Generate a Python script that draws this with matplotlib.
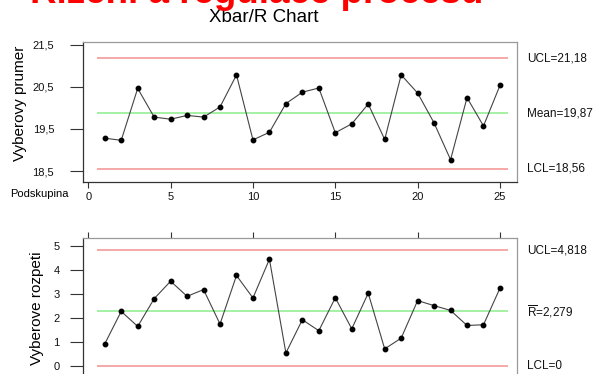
import matplotlib.pyplot as plt
from matplotlib.ticker import FixedLocator, FuncFormatter
import numpy as np

''' Format plots'''
plt.style.use('default')
plt.rcParams['font.family'] = ['Liberation Sans', 'DejaVu Sans']
plt.rcParams['font.size'] = 8
plt.rcParams['mathtext.fontset'] = 'custom'
plt.rcParams['mathtext.rm'] = 'Liberation Sans'
plt.rcParams['xtick.direction'] = 'out'
plt.rcParams['ytick.direction'] = 'out'

# data
subgroups = np.arange(1, 26)
xbar = [19.28, 19.23, 20.46, 19.78, 19.73, 19.82, 19.78, 20.02, 20.78, 19.24,
        19.42, 20.10, 20.37, 20.47, 19.41, 19.62, 20.09, 19.25, 20.78, 20.35,
        19.64, 18.77, 20.24, 19.57, 20.53]
ranges = [0.91, 2.27, 1.64, 2.80, 3.53, 2.90, 3.18, 1.74, 3.77, 2.83,
          4.45, 0.53, 1.92, 1.46, 2.84, 1.54, 3.03, 0.70, 1.15, 2.72,
          2.51, 2.31, 1.68, 1.71, 3.24]
xbar_limits = {'UCL': 21.18, 'Mean': 19.87, 'LCL': 18.56}
r_limits = {'UCL': 4.818, 'Rbar': 2.279, 'LCL': 0}
xbar_labels = ['UCL=21,18', 'Mean=19,87', 'LCL=18,56']
r_labels = ['UCL=4,818', r'$\overline{\mathrm{R}}$=2,279', 'LCL=0']
xbar_yticks = [18.5, 19.5, 20.5, 21.5]
r_yticks = [0, 1, 2, 3, 4, 5]
x_ticks = [0, 5, 10, 15, 20, 25]

red = '#f7a1a1'
green = '#9df09d'
line_col = '#444444'

fig = plt.figure(figsize=(5.94, 3.74), dpi=100)

ax1 = fig.add_axes([0.1392, 0.5126, 0.7316, 0.3751])
ax2 = fig.add_axes([0.1392, -0.016, 0.7316, 0.3791])

comma = FuncFormatter(lambda v, p: ('%g' % v).replace('.', ','))


def draw(ax, vals, limits, labels):
    x0, x1 = subgroups[0] - 0.5, subgroups[-1] + 0.5
    keys = list(limits)
    ax.hlines([limits[keys[0]], limits[keys[2]]], x0, x1, color=red, lw=1.3)
    ax.hlines(limits[keys[1]], x0, x1, color=green, lw=1.3)
    ax.plot(subgroups, vals, color=line_col, lw=0.8, marker='o', ms=3.2,
            mfc='black', mec='black')
    for k, lab in zip(keys, labels):
        ax.annotate(lab, xy=(1, limits[k]), xycoords=('axes fraction', 'data'),
                    xytext=(7, 0), textcoords='offset points',
                    ha='left', va='center', fontsize=8.5, color='#111111')
    ax.set_xlim(-0.34, 26.05)
    for s in ['left', 'bottom']:
        ax.spines[s].set_color('#333333')
    for s in ['top', 'right']:
        ax.spines[s].set_color('#999999')
    for s in ax.spines.values():
        s.set_linewidth(0.9)
    ax.xaxis.set_major_locator(FixedLocator(x_ticks))


# Xbar chart
draw(ax1, xbar, xbar_limits, xbar_labels)
ax1.set_ylim(18.235, 21.56)
ax1.yaxis.set_major_locator(FixedLocator(xbar_yticks))
ax1.yaxis.set_major_formatter(comma)
ax1.tick_params(axis='y', length=9.5, width=0.8, pad=11, colors='#333333',
                labelcolor='#111111', labelsize=8)
ax1.tick_params(axis='x', length=4.3, width=0.8, pad=3, colors='#333333',
                labelcolor='#111111', labelsize=8)

# R chart
draw(ax2, ranges, r_limits, r_labels)
ax2.set_ylim(-0.6, 5.33)
ax2.yaxis.set_major_locator(FixedLocator(r_yticks))
ax2.tick_params(axis='y', length=9.5, width=0.8, pad=7, colors='#333333',
                labelcolor='#111111', labelsize=8)
ax2.tick_params(axis='x', top=True, bottom=False, labeltop=False,
                labelbottom=False, length=4.3, width=0.8, colors='#333333')

# texts
fig.text(20.5 / 594, 1 - 103 / 374, 'Vyberovy prumer', rotation=90,
         ha='center', va='center', fontsize=11)
fig.text(36.5 / 594, 1 - 308 / 374, 'Vyberove rozpeti', rotation=90,
         ha='center', va='center', fontsize=11)
fig.text(39 / 594, 1 - 194 / 374, 'Podskupina', ha='center', va='center',
         fontsize=8)
fig.text(264 / 594, 1 - 17 / 374, 'Xbar/R Chart', ha='center', va='center',
         fontsize=13.5)
# slide heading, mostly cut off by the top edge
fig.text(257 / 594, 1 - 3 / 374, 'Řízení a regulace procesů', ha='center',
         va='baseline', fontsize=26.5, fontweight='bold', color='#ff0000')

plt.savefig('out.png', dpi=100)
